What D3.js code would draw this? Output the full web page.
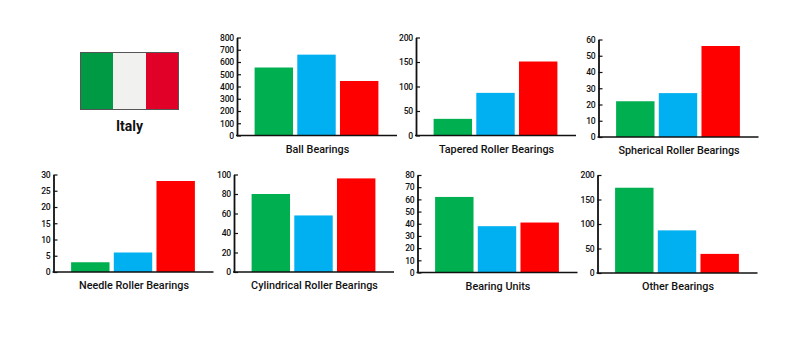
<!DOCTYPE html>
<html>
<head>
<meta charset="utf-8">
<script src="https://cdn.jsdelivr.net/npm/d3@7"></script>
<style>
  body { margin: 0; background: #fff; }
  text { font-family: "Roboto", sans-serif; fill: #111; }
</style>
</head>
<body>
<div id="chart"></div>
<script>
// Data
const series = ["A", "B", "C"]
const titles = ["Ball Bearings", "Tapered Roller Bearings", "Spherical Roller Bearings", "Needle Roller Bearings",
    "Cylindrical Roller Bearings", "Bearing Units", "Other Bearings"]
const ball = [555, 660, 445]
const tapered = [34, 87, 151]
const spherical = [22, 27, 56]
const needle = [3, 6, 28]
const cylindrical = [80, 58, 96]
const units = [62, 38, 41]
const other = [174, 87, 39]
const maxima = [800, 200, 60, 30, 100, 80, 200]
const steps = [100, 50, 10, 5, 20, 10, 50]
const values = [ball, tapered, spherical, needle, cylindrical, units, other]
const country = "Italy"
const flagStripes = ["green", "white", "red"]

// Colours
const colors = d3.scaleOrdinal().domain(series).range(["#00b050", "#00b0f0", "#ff0000"])
const flagColors = d3.scaleOrdinal().domain(flagStripes).range(["#009a44", "#f1f2f0", "#e10028"])

// Where each panel sits: axis x, top of axis, baseline
const panels = [
    [237, 37.5, 135.5], [416, 37.5, 135.5], [598.5, 39.5, 137],
    [53.5, 174.5, 272], [234, 174.5, 272], [417.5, 175, 272.5], [597.5, 175, 273]
]
const panelWidth = 160

const svg = d3.select("#chart").append("svg")
    .attr("width", 810)
    .attr("height", 360)

// Flag
const flagX = d3.scaleBand().domain(flagStripes).range([80, 179])
svg.selectAll(".stripe")
    .data(flagStripes)
    .join("rect")
    .attr("class", "stripe")
    .attr("x", d => flagX(d))
    .attr("y", 52)
    .attr("width", flagX.bandwidth())
    .attr("height", 58)
    .attr("fill", d => flagColors(d))
svg.append("rect")
    .attr("x", 80.5).attr("y", 52.5)
    .attr("width", 98).attr("height", 57)
    .attr("fill", "none")
    .attr("stroke", "#555")
svg.append("text")
    .attr("x", 129.5)
    .attr("y", 131)
    .attr("text-anchor", "middle")
    .style("font-size", "14px")
    .style("font-weight", 700)
    .text(country)

// One small bar chart per bearing type
titles.forEach((title, i) => {
    const [px, top, base] = panels[i]
    const g = svg.append("g").attr("transform", "translate(" + px + ",0)")

    const x = d3.scaleBand().domain(series).range([17.6, 141.4]).paddingInner(0.1)
    const y = d3.scaleLinear().domain([0, maxima[i]]).range([base, top])

    g.selectAll("rect")
        .data(values[i])
        .join("rect")
        .attr("x", (d, j) => x(series[j]))
        .attr("y", d => y(d))
        .attr("width", x.bandwidth())
        .attr("height", d => y(0) - y(d))
        .attr("fill", (d, j) => colors(series[j]))

    const axis = g.append("g")
        .call(d3.axisLeft(y).tickValues(d3.range(0, maxima[i] + 1, steps[i])).tickSize(0).tickSizeOuter(0).tickPadding(3))
    axis.selectAll("line").attr("x1", 0).attr("x2", 4).attr("stroke", "#111").attr("stroke-width", 1.2)
    axis.select(".domain").attr("stroke", "#111").attr("stroke-width", 1.8)
    axis.selectAll("text")
        .style("font-size", "8.6px")
        .style("letter-spacing", "-0.25px")
        .style("font-family", "Roboto, sans-serif")
        .style("font-weight", 500)

    // Baseline
    g.append("line")
        .attr("x1", -1)
        .attr("x2", panelWidth)
        .attr("y1", y(0))
        .attr("y2", y(0))
        .attr("stroke", "#111")
        .attr("stroke-width", 1.6)

    g.append("text")
        .attr("x", 80.5)
        .attr("y", base + 17)
        .attr("text-anchor", "middle")
        .style("font-size", "10.8px")
        .style("font-weight", 500)
        .text(title)
})
</script>
</body>
</html>
